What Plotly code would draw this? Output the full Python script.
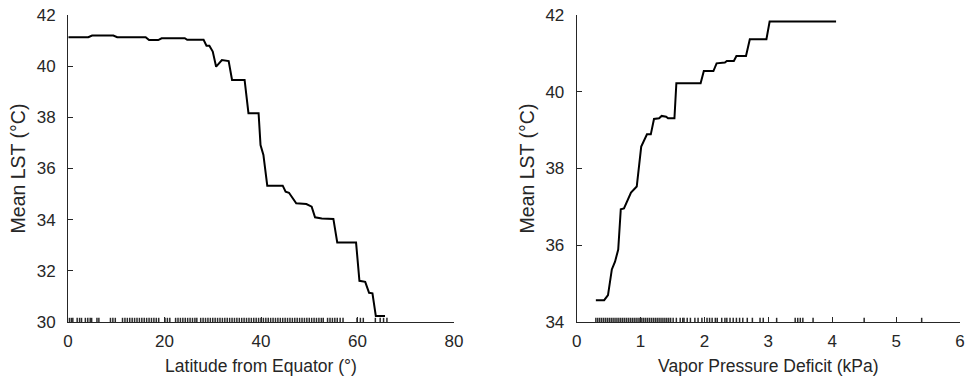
import plotly.graph_objects as go

# Left panel: partial dependence on latitude
lat_x = [0.1, 4.2, 5.0, 9.4, 10.2, 16.1, 16.8, 18.7, 19.4, 24.2, 24.7, 28.1, 28.7, 29.3, 30.0, 30.7,
         31.9, 33.3, 34.0, 36.6, 37.4, 39.5, 39.9, 40.5, 41.3, 44.5, 45.1, 45.8, 47.3, 49.4, 50.5,
         51.2, 52.6, 55.0, 55.8, 59.7, 60.4, 61.6, 62.4, 63.1, 63.8, 65.7]
lat_y = [41.13, 41.13, 41.2, 41.2, 41.13, 41.13, 41.02, 41.02, 41.09, 41.09, 41.03, 41.03, 40.8, 40.8,
         40.57, 39.98, 40.24, 40.2, 39.46, 39.46, 38.16, 38.16, 36.92, 36.53, 35.33, 35.33, 35.09,
         35.05, 34.64, 34.61, 34.51, 34.09, 34.05, 34.03, 33.11, 33.11, 31.61, 31.57, 31.14, 31.12,
         30.23, 30.23]
lat_rug = [0.3, 0.7, 1.0, 1.9, 2.4, 2.8, 3.6, 4.1, 4.6, 4.9, 6.0, 6.4, 8.8, 9.3, 9.8, 11.3, 11.8, 12.3,
           12.8, 13.3, 13.8, 14.3, 14.8, 15.3, 15.8, 16.3, 16.8, 17.3, 17.8, 18.3, 18.8, 20.1, 20.6,
           21.1, 22.3, 22.8, 23.3, 23.8, 24.3, 24.8, 25.3, 25.8, 26.3, 26.7, 27.5, 28.0, 28.5, 29.0,
           29.5, 30.0, 30.5, 31.0, 31.5, 32.0, 32.5, 33.0, 33.5, 34.0, 34.5, 35.0, 35.5, 36.0, 36.5,
           37.0, 37.5, 38.0, 38.5, 39.0, 39.5, 40.0, 40.5, 41.0, 41.5, 42.0, 42.5, 43.0, 43.5, 44.0,
           44.5, 45.0, 45.5, 46.0, 46.5, 47.0, 47.5, 48.0, 48.5, 49.0, 49.5, 50.0, 50.5, 51.0, 51.5,
           52.0, 52.5, 52.9, 53.8, 54.3, 54.8, 55.3, 55.8, 56.4, 57.0, 59.9, 60.6, 61.2, 63.7, 64.7,
           65.4, 66.1]

# Right panel: partial dependence on vapor pressure deficit
vpd_x = [0.30, 0.43, 0.49, 0.55, 0.60, 0.65, 0.69, 0.74, 0.85, 0.94, 1.01, 1.10, 1.16, 1.21, 1.29,
         1.33, 1.40, 1.43, 1.53, 1.56, 1.94, 1.99, 2.14, 2.19, 2.32, 2.35, 2.46, 2.50, 2.65, 2.71,
         2.97, 3.02, 4.06]
vpd_y = [34.57, 34.57, 34.7, 35.37, 35.57, 35.89, 36.94, 36.96, 37.37, 37.53, 38.57, 38.89, 38.89,
         39.29, 39.31, 39.37, 39.35, 39.31, 39.31, 40.22, 40.22, 40.54, 40.54, 40.74, 40.76, 40.80,
         40.80, 40.93, 40.93, 41.37, 41.37, 41.83, 41.83]
vpd_rug = [0.30, 0.33, 0.36, 0.39, 0.42, 0.45, 0.48, 0.51, 0.54, 0.57, 0.60, 0.63, 0.66, 0.69, 0.72,
           0.75, 0.78, 0.81, 0.84, 0.87, 0.90, 0.93, 0.96, 0.99, 1.02, 1.05, 1.08, 1.11, 1.14, 1.17,
           1.20, 1.23, 1.26, 1.29, 1.32, 1.35, 1.38, 1.41, 1.44, 1.47,
           1.51, 1.56, 1.62, 1.66, 1.68, 1.73, 1.78, 1.85, 1.90, 1.96, 2.04, 2.08, 2.12, 2.17, 2.20,
           2.27, 2.32, 2.35, 2.40, 2.45, 2.50, 2.55, 2.60, 2.67, 2.75, 2.87, 2.92, 3.13, 3.42, 3.46,
           3.50, 3.54, 3.70, 4.50, 5.40]

left_xticks = [0, 20, 40, 60, 80]
left_yticks = [30, 32, 34, 36, 38, 40, 42]
right_xticks = [0, 1, 2, 3, 4, 5, 6]
right_yticks = [34, 36, 38, 40, 42]

AX = "#262626"
FONT = "Liberation Sans, Arial, sans-serif"

fig = go.Figure()
fig.add_trace(go.Scatter(x=lat_x, y=lat_y, mode="lines", line=dict(color="black", width=2),
                         xaxis="x", yaxis="y", showlegend=False))
fig.add_trace(go.Scatter(x=lat_rug, y=[left_yticks[0]] * len(lat_rug), mode="markers",
                         marker=dict(symbol="line-ns", size=6, line=dict(color="#2a2a2a", width=1.5)),
                         xaxis="x", yaxis="y", showlegend=False, cliponaxis=True))
fig.add_trace(go.Scatter(x=vpd_x, y=vpd_y, mode="lines", line=dict(color="black", width=2),
                         xaxis="x2", yaxis="y2", showlegend=False))
fig.add_trace(go.Scatter(x=vpd_rug, y=[right_yticks[0]] * len(vpd_rug), mode="markers",
                         marker=dict(symbol="line-ns", size=6, line=dict(color="#2a2a2a", width=1.5)),
                         xaxis="x2", yaxis="y2", showlegend=False, cliponaxis=True))

W, H = 969, 390
ydom = [1 - 322 / H, 1 - 15 / H]

def xax(dom, rng, ticks, title, anchor):
    return dict(domain=dom, range=rng, tickvals=ticks, ticks="inside", ticklen=5, tickwidth=1,
                tickcolor=AX, showline=True, linecolor=AX, linewidth=1, showgrid=False,
                zeroline=False, anchor=anchor, automargin=False,
                tickfont=dict(size=17, color=AX, family=FONT),
                title=dict(text=title, font=dict(size=17.5, color=AX, family=FONT), standoff=9),
                ticklabelstandoff=4)

def yax(rng, ticks, title, anchor):
    return dict(domain=ydom, range=rng, tickvals=ticks, ticks="inside", ticklen=5, tickwidth=1,
                tickcolor=AX, showline=True, linecolor=AX, linewidth=1, showgrid=False,
                zeroline=False, anchor=anchor, automargin=False,
                tickfont=dict(size=17, color=AX, family=FONT),
                title=dict(text=title, font=dict(size=19.5, color=AX, family=FONT), standoff=5),
                ticklabelstandoff=8)

fig.update_layout(
    width=W, height=H, margin=dict(l=0, r=0, t=0, b=0, autoexpand=False),
    paper_bgcolor="white", plot_bgcolor="white",
    font=dict(family=FONT, color=AX),
    xaxis=xax([68 / W, 454 / W], [0, 80], left_xticks, "Latitude from Equator (°)", "y"),
    yaxis=yax([30, 42], left_yticks, "Mean LST (°C)", "x"),
    xaxis2=xax([576.7 / W, 960 / W], [0, 6], right_xticks, "Vapor Pressure Deficit (kPa)", "y2"),
    yaxis2=yax([34, 42], right_yticks, "Mean LST (°C)", "x2"),
)

fig.write_html("out.html")
